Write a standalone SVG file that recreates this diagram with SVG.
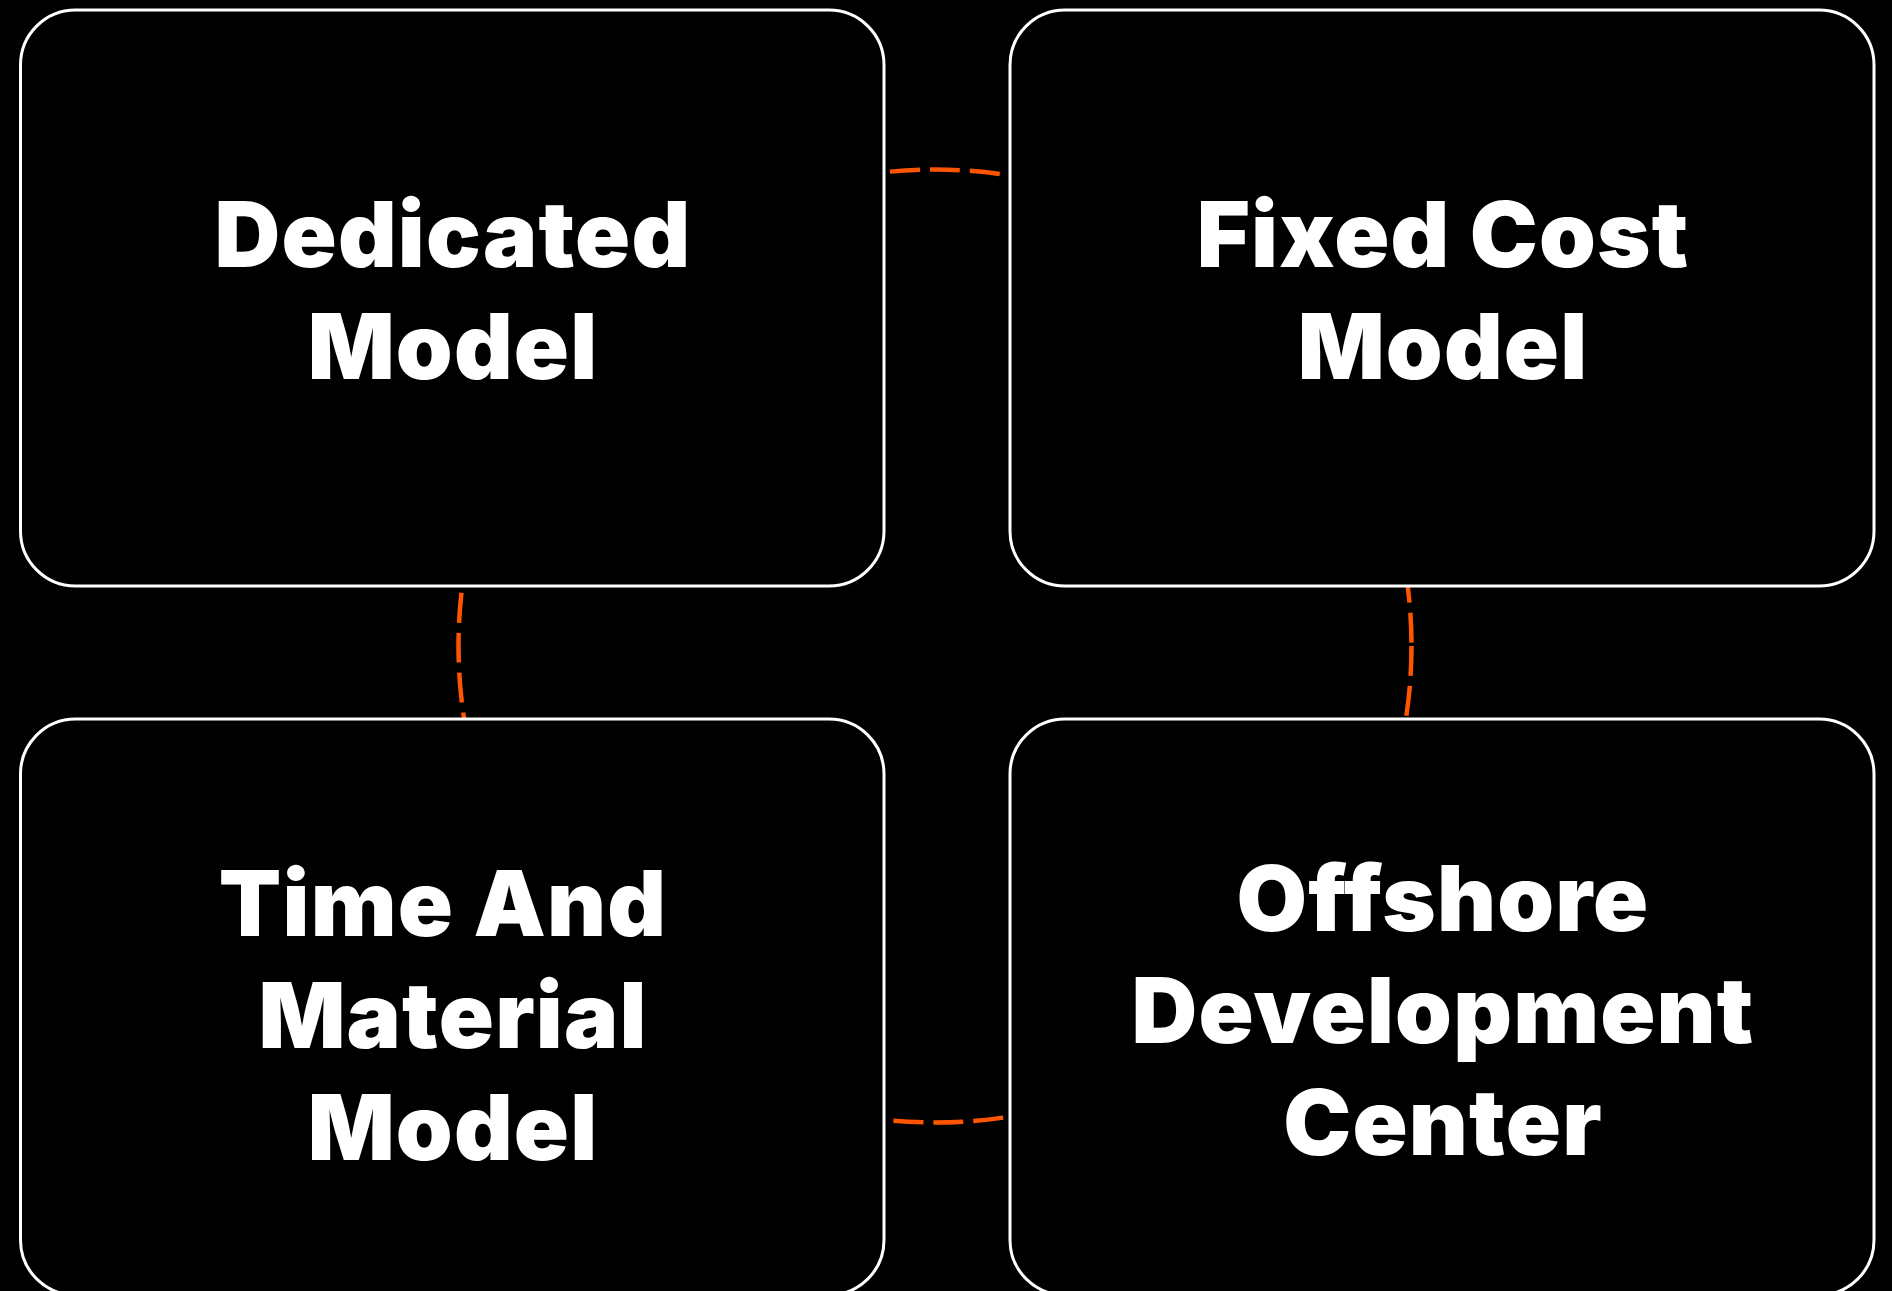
<svg xmlns="http://www.w3.org/2000/svg" width="1892" height="1291" viewBox="0 0 1892 1291">
<style>
.box{fill:#000;stroke:#fff;stroke-width:3}
.lbl{fill:#fff;font-family:Inter,"Liberation Sans",sans-serif;font-weight:900;font-size:91px;letter-spacing:1.2px;text-anchor:middle}
.ring{fill:none;stroke:#FF5500;stroke-width:4.5;stroke-dasharray:30 10}
</style>
<rect width="1892" height="1291" fill="#000"/>
<g id="connectors">
<circle class="ring" cx="935" cy="646" r="476.5"/>
</g>
<g id="node-dedicated">
<rect class="box" x="20.5" y="10" width="863.5" height="576" rx="55"/>
<text class="lbl" x="453" y="267">Dedicated</text>
<text class="lbl" x="453" y="379">Model</text>
</g>
<g id="node-fixed-cost">
<rect class="box" x="1010" y="10" width="864" height="576" rx="55"/>
<text class="lbl" x="1443" y="267">Fixed Cost</text>
<text class="lbl" x="1443" y="379">Model</text>
</g>
<g id="node-time-material">
<rect class="box" x="20.5" y="719" width="863.5" height="576" rx="55"/>
<text class="lbl" x="443" y="936">Time And</text>
<text class="lbl" x="453" y="1048">Material</text>
<text class="lbl" x="453" y="1160">Model</text>
</g>
<g id="node-offshore">
<rect class="box" x="1010" y="719" width="864" height="576" rx="55"/>
<text class="lbl" x="1443" y="931">Offshore</text>
<text class="lbl" x="1443" y="1043">Development</text>
<text class="lbl" x="1443" y="1155">Center</text>
</g>
</svg>
